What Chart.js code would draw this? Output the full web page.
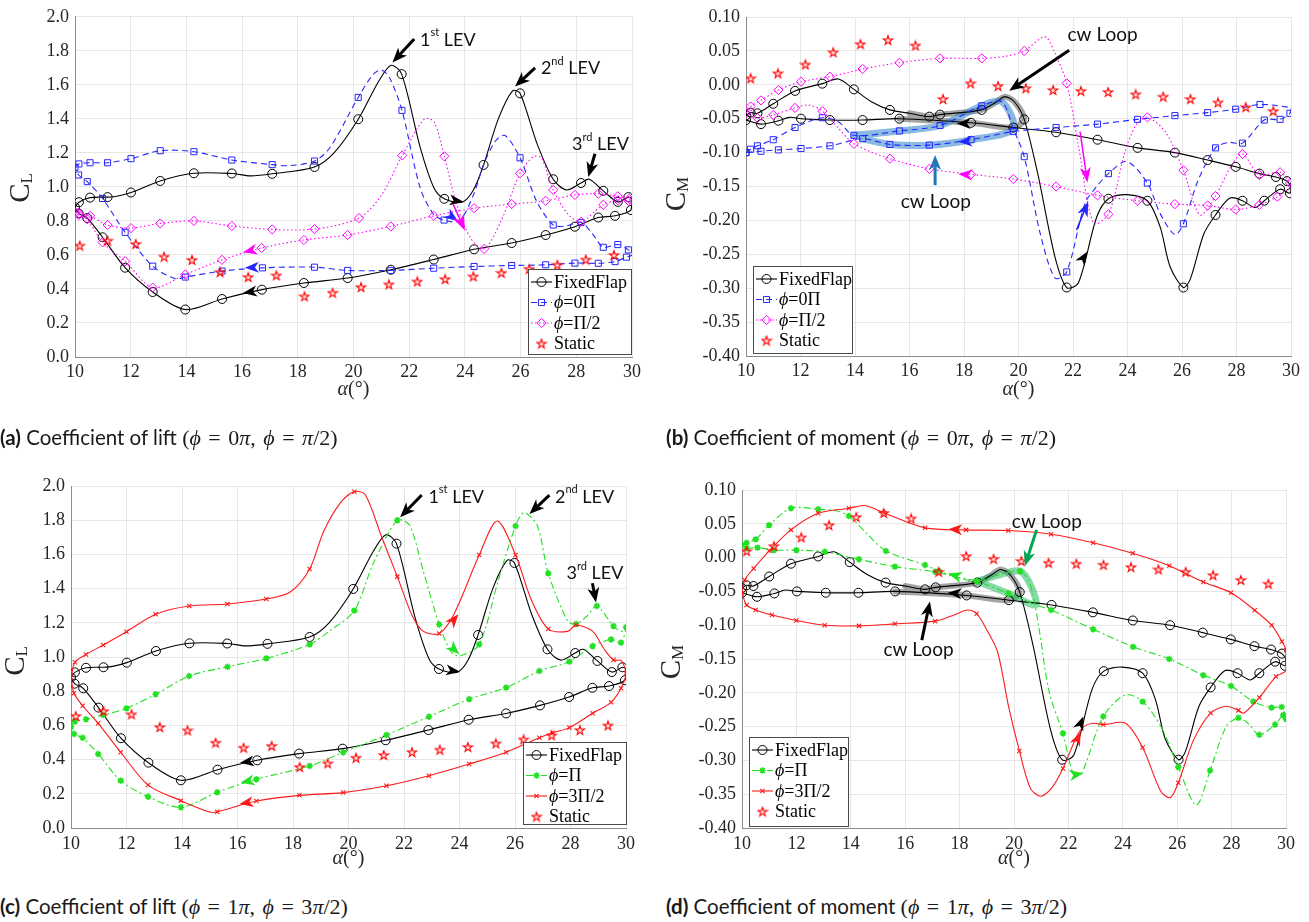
<!DOCTYPE html>
<html>
<head>
<meta charset="utf-8">
<title>Lift and moment hysteresis loops</title>
<script src="https://cdn.jsdelivr.net/npm/chart.js@4.4.1/dist/chart.umd.min.js"></script>
<style>
  html, body { margin: 0; padding: 0; background: #fff; }
  body { position: relative; width: 1309px; height: 922px; overflow: hidden; }
  canvas { position: absolute; }
  .cap { position: absolute; font: 20.5px Lato, "Open Sans", sans-serif; color: #1a1a1a; white-space: nowrap; }
  .cap b { font-weight: 700; }
  .m { font-family: "Liberation Serif", "DejaVu Serif", serif; font-size: 22px; word-spacing: 2px; }
</style>
</head>
<body>
<canvas id="cl1" width="650" height="420" style="left:0;top:0"></canvas>
<canvas id="cm1" width="659" height="420" style="left:650px;top:0"></canvas>
<canvas id="cl2" width="650" height="450" style="left:0;top:440px"></canvas>
<canvas id="cm2" width="659" height="450" style="left:650px;top:440px"></canvas>

<div class="cap" style="left:0;top:425px"><b>(a)</b> Coefficient of lift <span class="m">(<i>ϕ</i> = 0<i>π</i>, <i>ϕ</i> = <i>π</i>/2)</span></div>
<div class="cap" style="left:666px;top:425px"><b>(b)</b> Coefficient of moment <span class="m">(<i>ϕ</i> = 0<i>π</i>, <i>ϕ</i> = <i>π</i>/2)</span></div>
<div class="cap" style="left:0;top:894px"><b>(c)</b> Coefficient of lift <span class="m">(<i>ϕ</i> = 1<i>π</i>, <i>ϕ</i> = 3<i>π</i>/2)</span></div>
<div class="cap" style="left:666px;top:894px"><b>(d)</b> Coefficient of moment <span class="m">(<i>ϕ</i> = 1<i>π</i>, <i>ϕ</i> = 3<i>π</i>/2)</span></div>

<script>
// ---- static polar (same angles for lift and moment)
const alphaStatic = [10.17,11.17,12.18,13.2,14.2,15.21,16.22,17.23,18.24,19.25,20.27,21.27,22.29,23.29,24.3,25.31,26.31,27.32,28.34,29.35];
const clStatic = [0.655,0.684,0.665,0.59,0.571,0.499,0.47,0.48,0.357,0.378,0.411,0.427,0.444,0.458,0.474,0.495,0.518,0.542,0.573,0.60];
const cmStatic = [0.0096,0.017,0.030,0.048,0.060,0.066,0.058,-0.021,0.0022,-0.0018,-0.005,-0.0077,-0.009,-0.0106,-0.014,-0.0175,-0.021,-0.026,-0.033,-0.0387];

// ---- lift loops (upstroke 10->30, then downstroke 30->10); mark = 1 where a symbol sits
const ffAlphaL = [10,10.14,10.54,11.17,11.5,12.01,13.06,14.27,15.63,16.3,17.08,18.6,19.3,20.17,20.9,21.35,21.73,22.4,22.9,23.26,23.9,24.3,24.67,25.2,25.71,25.98,26.6,27.17,27.65,28.17,28.46,28.97,29.49,29.87,30,29.96,29.39,28.79,27.95,26.9,25.68,24.33,22.88,21.34,19.79,18.22,16.71,15.28,13.96,12.79,11.8,10.99,10.44,10.13,10];
const ffCL = [0.88,0.91,0.937,0.94,0.945,0.967,1.035,1.08,1.079,1.065,1.077,1.117,1.2,1.398,1.62,1.715,1.663,1.23,0.99,0.93,0.91,0.98,1.129,1.40,1.565,1.55,1.25,1.045,0.982,1.023,1.045,0.977,0.912,0.94,0.93,0.864,0.83,0.82,0.766,0.717,0.67,0.633,0.573,0.513,0.464,0.435,0.396,0.341,0.279,0.382,0.525,0.704,0.817,0.844,0.88];
const ffMarkL = [1,1,1,1,0,1,1,1,1,0,1,1,0,1,0,0,1,0,0,1,0,0,1,0,0,1,0,1,0,1,0,1,1,1,0,1,1,1,1,1,1,1,1,1,1,1,1,1,1,1,1,1,1,1,0];

const p0AlphaL = [10,10.14,10.54,11.17,12.01,13.06,14.27,15.63,17.08,17.7,18.6,19.15,20.17,20.7,21.01,21.3,21.74,22.39,22.87,23.25,23.8,24.3,24.67,25.1,25.44,25.98,26.57,27.17,27.6,28.17,28.6,28.97,29.49,29.87,30,29.8,29.39,28.79,27.95,26.9,25.68,24.33,22.88,21.34,19.79,18.6,16.73,15.28,13.96,13.6,12.79,11.8,10.99,10.44,10.13,10];
const p0CL = [1.115,1.135,1.142,1.142,1.166,1.213,1.207,1.158,1.131,1.125,1.152,1.23,1.526,1.66,1.688,1.64,1.45,0.996,0.84,0.805,0.80,0.95,1.13,1.27,1.302,1.171,0.918,0.776,0.77,0.791,0.72,0.645,0.661,0.63,0.60,0.587,0.561,0.551,0.552,0.542,0.538,0.532,0.522,0.509,0.509,0.528,0.524,0.505,0.47,0.46,0.534,0.733,0.932,1.031,1.07,1.115];
const p0MarkL = [1,1,1,1,1,1,1,1,1,0,1,0,1,0,0,0,1,0,0,1,0,0,0,0,0,1,0,1,0,1,0,1,1,1,0,1,1,1,1,1,1,1,1,1,1,1,1,1,1,0,1,1,1,1,1,0];

const p2AlphaL = [10,10.14,10.54,11.17,12.01,13.06,14.27,15.63,17.08,18.6,20.2,21.0,21.75,22.55,22.9,23.26,23.7,24.2,24.69,25.3,25.98,26.46,26.75,27.17,27.7,28.17,28.97,29.49,29.87,30,29.9,29.49,28.79,27.95,26.9,25.68,24.33,22.88,21.34,19.79,18.22,16.7,15.28,13.96,12.79,11.8,10.99,10.44,10.14,10];
const p2CL = [0.85,0.845,0.83,0.776,0.758,0.785,0.80,0.77,0.75,0.752,0.817,0.95,1.185,1.40,1.38,1.18,0.9,0.7,0.635,0.80,1.08,1.177,1.17,0.982,0.84,0.795,0.895,0.922,0.918,0.90,0.93,0.945,0.96,0.953,0.918,0.899,0.875,0.83,0.768,0.717,0.688,0.641,0.571,0.485,0.408,0.563,0.674,0.81,0.835,0.85];
const p2MarkL = [1,1,1,1,1,1,1,1,1,1,1,0,1,0,0,1,0,0,1,0,1,0,0,1,0,1,1,1,1,0,1,1,1,1,1,1,1,1,1,1,1,1,1,1,1,1,1,1,1,0];

const piAlphaL = [10,10.14,10.54,11.16,12.0,13.05,14.26,15.64,17.04,18.6,19.3,20.21,20.9,21.76,22.2,22.7,23.27,23.7,24.02,24.71,25.4,26.02,26.32,26.8,27.2,27.9,28.2,28.6,28.95,29.55,29.85,30,29.82,29.46,28.8,27.96,26.88,25.68,24.35,22.9,21.37,19.81,18.6,16.68,15.27,13.96,12.78,11.79,10.98,10.42,10.11,10];
const piCL = [0.592,0.622,0.636,0.661,0.70,0.782,0.889,0.943,0.992,1.074,1.15,1.271,1.55,1.80,1.77,1.50,1.19,1.03,1.006,1.074,1.45,1.766,1.844,1.77,1.489,1.21,1.193,1.24,1.298,1.181,1.15,1.174,1.084,1.103,1.064,0.973,0.918,0.821,0.754,0.651,0.544,0.443,0.363,0.285,0.209,0.121,0.183,0.277,0.433,0.528,0.55,0.592];
const piMarkL = [1,1,1,1,1,1,1,1,1,1,0,1,0,1,0,0,1,0,0,1,0,1,0,0,1,0,1,0,1,1,0,1,1,1,1,1,1,1,1,1,1,1,1,1,1,1,1,1,1,1,1,0];

const p3AlphaL = [10,10.14,10.54,11.16,12.0,13.05,14.26,15.64,17.04,17.9,18.6,19.1,19.7,20.21,20.6,21.2,21.76,22.3,22.7,23.27,23.8,24.71,25.36,26.02,26.6,27.2,27.9,28.2,28.8,29.2,29.55,29.82,30,29.82,29.46,28.8,27.96,27.36,26.88,25.68,24.35,22.9,21.37,19.81,18.23,16.68,15.27,15.0,13.96,12.78,11.79,10.98,10.42,10.11,10];
const p3CL = [0.88,0.969,1.015,1.07,1.148,1.25,1.298,1.31,1.339,1.38,1.515,1.733,1.90,1.967,1.95,1.70,1.47,1.24,1.15,1.138,1.25,1.596,1.795,1.596,1.33,1.164,1.15,1.187,1.15,1.05,0.982,0.98,0.905,0.817,0.735,0.671,0.587,0.557,0.528,0.443,0.374,0.306,0.247,0.207,0.191,0.158,0.095,0.093,0.16,0.251,0.443,0.612,0.715,0.788,0.88];
const p3MarkL = [1,1,1,1,1,1,1,1,1,0,1,0,0,1,0,0,1,0,0,1,0,1,0,1,0,1,0,1,0,0,1,0,1,1,1,1,1,1,1,1,1,1,1,1,1,1,1,0,1,1,1,1,1,1,0];

// ---- moment loops
const ffAlphaM = [10,10.17,10.42,11.0,11.8,12.8,13.39,13.96,14.6,15.28,16.0,16.73,17.12,18.65,19.2,19.5,19.85,20.21,20.7,21.34,21.77,22.2,22.87,23.3,23.97,24.73,25.2,25.56,26.05,26.3,26.8,27.23,27.76,28.22,28.68,29.02,29.6,29.96,30,29.85,29.45,28.84,27.97,26.94,25.74,24.37,22.9,21.38,19.81,18.26,15.63,14.28,13.08,12.02,11.6,11.19,10.55,10.0];
const ffCM = [-0.045,-0.041,-0.042,-0.028,-0.009,0.0017,0.0086,-0.0067,-0.025,-0.037,-0.042,-0.047,-0.044,-0.037,-0.025,-0.0175,-0.025,-0.051,-0.13,-0.254,-0.299,-0.292,-0.195,-0.168,-0.162,-0.171,-0.21,-0.268,-0.299,-0.287,-0.22,-0.192,-0.167,-0.171,-0.181,-0.171,-0.154,-0.16,-0.152,-0.142,-0.136,-0.131,-0.121,-0.111,-0.100,-0.093,-0.081,-0.070,-0.063,-0.056,-0.050,-0.052,-0.052,-0.050,-0.048,-0.053,-0.058,-0.052];
const ffMarkM = [1,1,1,1,1,1,0,1,0,1,0,1,1,1,0,0,0,1,0,0,1,0,0,1,0,1,0,0,1,0,0,1,0,1,0,1,1,1,0,1,1,1,1,1,1,1,1,1,1,1,1,1,1,1,0,1,1,1];

const p0AlphaM = [10,10.17,10.42,11.0,11.8,12.8,13.4,13.96,15.63,17.12,18.65,19.39,19.81,20.21,20.8,21.34,21.77,22.44,22.87,23.3,23.97,24.73,25.2,25.74,26.05,26.6,27.23,27.7,28.22,29.02,29.6,29.96,30,29.9,28.86,27.97,26.94,25.74,24.37,22.9,21.38,19.81,18.26,16.73,15.28,14.28,13.08,12.02,11.19,10.55,10.0];
const p0CM = [-0.100,-0.095,-0.090,-0.081,-0.063,-0.0485,-0.055,-0.0745,-0.068,-0.060,-0.031,-0.025,-0.065,-0.106,-0.22,-0.285,-0.276,-0.175,-0.150,-0.131,-0.113,-0.145,-0.19,-0.221,-0.205,-0.14,-0.093,-0.085,-0.086,-0.052,-0.051,-0.042,-0.035,-0.033,-0.029,-0.036,-0.041,-0.0455,-0.051,-0.058,-0.063,-0.069,-0.081,-0.089,-0.088,-0.0795,-0.090,-0.094,-0.096,-0.098,-0.100];
const p0MarkM = [1,1,1,1,1,1,0,1,1,1,1,0,0,1,0,0,1,0,0,1,0,1,0,0,1,0,1,0,1,1,1,1,0,0,1,1,1,1,1,1,1,1,1,1,1,1,1,1,1,1,1];

const p2AlphaM = [10,10.17,10.55,11.19,12.02,13.08,14.28,15.63,17.12,18.65,19.5,20.21,20.97,21.3,21.77,22.2,22.75,23.3,23.9,24.3,24.73,25.4,26.05,26.66,27.23,27.8,28.22,28.84,29.6,29.96,30,29.5,28.84,27.97,26.94,25.74,24.37,22.9,21.38,19.81,18.26,16.73,15.28,13.96,13.3,12.8,12.3,11.8,11.0,10.42,10.0];
const p2CM = [-0.042,-0.032,-0.023,-0.0077,0.0046,0.012,0.0233,0.0326,0.039,0.039,0.042,0.050,0.071,0.05,0.0022,-0.09,-0.204,-0.191,-0.10,-0.06,-0.048,-0.07,-0.126,-0.192,-0.164,-0.12,-0.102,-0.133,-0.129,-0.145,-0.150,-0.165,-0.177,-0.184,-0.178,-0.176,-0.171,-0.163,-0.150,-0.139,-0.132,-0.124,-0.109,-0.087,-0.06,-0.0387,-0.030,-0.034,-0.0445,-0.049,-0.042];
const p2MarkM = [1,1,1,1,1,1,1,1,1,1,0,1,0,0,1,0,0,1,0,0,1,0,1,0,1,0,1,1,1,1,0,1,1,1,1,1,1,1,1,1,1,1,1,1,0,1,0,1,1,1,0];

const piAlphaM = [10,10.17,10.5,11.0,11.8,12.8,13.5,13.93,14.6,15.29,16.73,17.24,18.0,18.63,19.5,20.22,20.6,20.9,21.3,21.8,22.2,22.49,23.28,24.1,24.73,25.4,26.04,26.7,27.21,27.8,28.25,28.6,29.02,29.6,29.9,30,29.84,29.47,28.8,27.98,26.96,25.71,24.38,22.91,21.36,20.8,19.79,18.63,17.8,17.1,15.62,14.3,13.04,12.0,11.16,10.57,10.17,10];
const piCM = [0.0186,0.022,0.027,0.048,0.073,0.0715,0.069,0.0615,0.035,0.0098,-0.011,-0.020,-0.030,-0.035,-0.025,-0.020,-0.04,-0.10,-0.2,-0.26,-0.322,-0.319,-0.235,-0.203,-0.213,-0.25,-0.31,-0.366,-0.315,-0.25,-0.237,-0.245,-0.262,-0.247,-0.233,-0.239,-0.221,-0.222,-0.213,-0.19,-0.174,-0.15,-0.132,-0.106,-0.0775,-0.07,-0.053,-0.035,-0.028,-0.021,-0.0134,-0.0025,0.0087,0.011,0.011,0.0147,0.0137,0.0186];
const piMarkM = [1,1,1,1,1,1,0,1,0,1,1,1,0,1,0,1,0,0,0,1,0,0,1,0,1,0,1,0,1,0,1,0,1,1,1,1,1,1,1,1,1,1,1,1,1,0,1,0,0,1,1,1,1,1,1,1,1,0];

const p3AlphaM = [10,10.17,10.5,11.1,12.0,13.04,14.3,15.62,17.1,17.8,18.3,18.63,19.0,19.4,19.8,20.2,20.6,20.98,21.4,21.8,22.3,22.56,22.9,23.28,24.1,24.73,25.4,25.75,26.04,26.6,27.23,27.8,28.25,28.45,29.02,29.63,30,30,29.85,29.47,28.85,27.98,26.96,25.71,24.36,22.91,21.36,19.79,18.24,16.73,15.23,14.52,13.93,12.8,11.8,11.0,10.43,10.1,10];
const p3CM = [-0.053,-0.070,-0.0775,-0.085,-0.093,-0.100,-0.101,-0.098,-0.094,-0.085,-0.0775,-0.083,-0.107,-0.14,-0.22,-0.286,-0.341,-0.353,-0.34,-0.312,-0.265,-0.25,-0.245,-0.247,-0.245,-0.281,-0.346,-0.355,-0.333,-0.27,-0.23,-0.22,-0.226,-0.23,-0.207,-0.176,-0.167,-0.137,-0.124,-0.100,-0.078,-0.052,-0.036,-0.012,0.0063,0.022,0.0345,0.040,0.041,0.044,0.066,0.077,0.073,0.0655,0.041,0.010,-0.016,-0.033,-0.053];
const p3MarkM = [1,1,1,1,1,1,1,1,1,0,0,1,0,0,0,1,0,0,0,1,0,0,0,1,0,1,0,0,1,0,1,0,1,0,1,1,0,1,1,1,1,1,1,1,1,1,1,1,1,1,1,0,1,1,1,1,1,1,0];

const xTicks = [10, 30, 2];
const clTicks = [0, 2, 0.2];
const cmTicks = [-0.4, 0.1, 0.05];

// ---- pentagram symbol for the static points
const starImg = document.createElement('canvas');
starImg.width = 12; starImg.height = 12;
(function () {
  const c = starImg.getContext('2d');
  c.beginPath();
  for (let k = 0; k < 10; k++) {
    const r = k % 2 ? 1.9 : 4.8;
    const a = -Math.PI / 2 + k * Math.PI / 5;
    const px = 6 + r * Math.cos(a), py = 6.5 + r * Math.sin(a);
    k ? c.lineTo(px, py) : c.moveTo(px, py);
  }
  c.closePath();
  c.fillStyle = 'rgba(255,120,120,0.25)';
  c.fill();
  c.strokeStyle = '#ff0000';
  c.lineWidth = 1.1;
  c.stroke();
})();

const stFF = { color: '#000000', shape: 'circle', r: 4.5 };
const stP0 = { color: '#2626ff', shape: 'rect', r: 4.3, dash: [6, 4] };
const stP2 = { color: '#ff00ff', shape: 'rectRot', r: 4.6, dash: [1.5, 2.5] };
const stPi = { color: '#22e022', shape: 'star', r: 3.2, pbw: 1.6, dash: [7, 3, 2, 3] };
const stP3 = { color: '#ff1a1a', shape: 'crossRot', r: 3, pbw: 1.1 };
const stSt = { color: '#ff0000', shape: starImg, r: 5, noLine: true };

const SERIF = '"Times New Roman", "Liberation Serif", Times, serif';
const SANS = 'Lato, "Open Sans", sans-serif';

function loop(A, V, M, st) {
  return {
    data: A.map((a, i) => ({ x: a, y: V[i] })),
    showLine: true, tension: 0.3, fill: false,
    borderColor: st.color, borderWidth: 1.1, borderDash: st.dash || [],
    pointStyle: st.shape,
    pointRadius: c => (M[c.dataIndex] ? st.r : 0),
    pointHoverRadius: 0,
    pointBorderColor: st.color,
    pointBackgroundColor: 'rgba(0,0,0,0)',
    pointBorderWidth: st.pbw || 1
  };
}

function dots(A, V, st) {
  return {
    data: A.map((a, i) => ({ x: a, y: V[i] })),
    showLine: false, pointStyle: st.shape, pointRadius: st.r, pointHoverRadius: 0
  };
}

// wide translucent stroke under part of a loop; ranges are index spans of the loop arrays
function glow(A, V, ranges, color, w) {
  const d = [];
  ranges.forEach(([i0, i1]) => {
    for (let i = i0; i <= i1; i++) d.push({ x: A[i], y: V[i] });
  });
  return {
    data: d, showLine: true, tension: 0.3, borderColor: color, borderWidth: w,
    pointRadius: 0, pointHoverRadius: 0, borderCapStyle: 'round', borderJoinStyle: 'round'
  };
}

function head(ctx, x, y, ang, len, wid, color) {
  ctx.save();
  ctx.translate(x, y);
  ctx.rotate(ang);
  ctx.fillStyle = color;
  ctx.beginPath();
  ctx.moveTo(0, 0);
  ctx.lineTo(-len, -wid / 2);
  ctx.lineTo(-len * 0.72, 0);
  ctx.lineTo(-len, wid / 2);
  ctx.closePath();
  ctx.fill();
  ctx.restore();
}

function richText(ctx, x, y, parts, size, family) {
  parts.forEach(p => {
    const s = p.sup ? Math.round(size * 0.62) : size;
    ctx.font = (p.it ? 'italic ' : '') + s + 'px ' + family;
    ctx.fillText(p.t, x, p.sup ? y - size * 0.38 : y);
    x += ctx.measureText(p.t).width;
  });
}

function drawLegend(ctx, area, lg) {
  const bx = lg.side === 'right' ? area.right - lg.w + lg.dx : area.left + lg.dx;
  const by = area.bottom - lg.h - lg.dy;
  ctx.setLineDash([]);
  ctx.fillStyle = '#fff';
  ctx.fillRect(bx, by, lg.w, lg.h);
  ctx.strokeStyle = '#4a4a4a';
  ctx.lineWidth = 1;
  ctx.strokeRect(bx + 0.5, by + 0.5, lg.w - 1, lg.h - 1);
  lg.items.forEach((it, i) => {
    const cy = by + 13 + i * 20.5;
    const st = it.st;
    if (!st.noLine) {
      ctx.strokeStyle = st.color;
      ctx.lineWidth = 1.1;
      ctx.setLineDash(st.dash || []);
      ctx.beginPath();
      ctx.moveTo(bx + 3, cy);
      ctx.lineTo(bx + 24, cy);
      ctx.stroke();
      ctx.setLineDash([]);
    }
    ctx.strokeStyle = st.color;
    ctx.fillStyle = 'rgba(0,0,0,0)';
    ctx.lineWidth = st.pbw || 1;
    Chart.helpers.drawPoint(ctx, { pointStyle: st.shape, radius: st.r, borderWidth: st.pbw || 1, rotation: 0 }, bx + 13.5, cy);
    ctx.fillStyle = '#000';
    ctx.textAlign = 'left';
    ctx.textBaseline = 'middle';
    richText(ctx, bx + 26, cy + 1, it.label, 18, SERIF);
  });
}

const lgBase = [{ st: stFF, label: [{ t: 'FixedFlap' }] }];
const lgStatic = { st: stSt, label: [{ t: 'Static' }] };
const phi = t => [{ t: 'ϕ', it: 1 }, { t: t }];
const LEV = (n, s) => [{ t: n }, { t: s, sup: 1 }, { t: ' LEV' }];

const decor = {
  cl1: {
    yTitle: { x: 21, y: 188, main: 'C', sub: 'L' }, xTitleDy: 33,
    legend: { side: 'right', dx: 0, dy: 2, w: 104, h: 86, items: [...lgBase, { st: stP0, label: phi('=0Π') }, { st: stP2, label: phi('=Π/2') }, lgStatic] },
    heads: [
      [16.6, 0.39, 16.03, 0.376, '#000'], [16.6, 0.527, 16.1, 0.524, '#2626ff'], [16.6, 0.636, 16.04, 0.616, '#ff00ff'],
      [23.4, 0.925, 23.95, 0.912, '#000'], [23.4, 0.84, 23.75, 0.80, '#2626ff']
    ],
    arrows: [
      { from: [22.18, 1.87], to: [21.40, 1.731], color: '#000', w: 3, len: 15, wid: 12 },
      { from: [26.52, 1.70], to: [25.8, 1.59], color: '#000', w: 3, len: 15, wid: 12 },
      { from: [28.67, 1.195], to: [28.43, 1.058], color: '#000', w: 3, len: 15, wid: 12 },
      { from: [23.58, 0.899], to: [24.0, 0.743], color: '#ff00ff', w: 1.5, len: 16, wid: 12 }
    ],
    notes: [
      { at: [22.39, 1.865], parts: LEV('1', 'st'), size: 18 },
      { at: [26.73, 1.70], parts: LEV('2', 'nd'), size: 18 },
      { at: [27.85, 1.25], parts: LEV('3', 'rd'), size: 18 }
    ]
  },
  cm1: {
    yTitle: { x: 27, y: 194, main: 'C', sub: 'M' }, xTitleDy: 34,
    legend: { side: 'left', dx: 7, dy: 2, w: 100, h: 88, items: [...lgBase, { st: stP0, label: phi('=0Π') }, { st: stP2, label: phi('=Π/2') }, lgStatic] },
    heads: [
      [18.3, -0.057, 17.73, -0.057, '#000'], [18.3, -0.083, 17.79, -0.084, '#2626ff'], [18.3, -0.133, 17.79, -0.1316, '#ff00ff'],
      [22.26, -0.263, 22.53, -0.246, '#000']
    ],
    arrows: [
      { from: [22.13, -0.214], to: [22.56, -0.172], color: '#2626ff', w: 1.5, len: 15, wid: 11 },
      { from: [22.26, -0.069], to: [22.53, -0.144], color: '#ff00ff', w: 1.5, len: 15, wid: 11 },
      { from: [21.86, 0.051], to: [19.66, -0.0087], color: '#000', w: 3, len: 15, wid: 12 },
      { from: [16.94, -0.148], to: [16.94, -0.1035], color: '#1f77b4', w: 3, len: 15, wid: 12 }
    ],
    notes: [
      { at: [21.8, 0.0735], parts: [{ t: 'cw Loop' }], size: 19 },
      { at: [15.68, -0.172], parts: [{ t: 'cw Loop' }], size: 19 }
    ]
  },
  cl2: {
    yTitle: { x: 16, y: 221, main: 'C', sub: 'L' }, xTitleDy: 31,
    legend: { side: 'right', dx: 1, dy: 3, w: 104, h: 83, items: [...lgBase, { st: stPi, label: phi('=Π') }, { st: stP3, label: phi('=3Π/2') }, lgStatic] },
    heads: [
      [16.7, 0.395, 16.09, 0.382, '#000'], [16.7, 0.285, 16.11, 0.265, '#22e022'], [16.7, 0.158, 16.07, 0.14, '#ff1a1a'],
      [23.5, 0.925, 24.02, 0.914, '#000'], [23.45, 1.10, 23.99, 1.016, '#22e022'], [23.5, 1.16, 23.96, 1.25, '#ff1a1a']
    ],
    arrows: [
      { from: [22.64, 1.947], to: [21.86, 1.817], color: '#000', w: 3, len: 15, wid: 12 },
      { from: [27.24, 1.947], to: [26.52, 1.836], color: '#000', w: 3, len: 15, wid: 12 },
      { from: [28.79, 1.431], to: [28.92, 1.318], color: '#000', w: 3, len: 15, wid: 12 }
    ],
    notes: [
      { at: [22.88, 1.937], parts: LEV('1', 'st'), size: 18 },
      { at: [27.44, 1.937], parts: LEV('2', 'nd'), size: 18 },
      { at: [27.86, 1.49], parts: LEV('3', 'rd'), size: 18 }
    ]
  },
  cm2: {
    yTitle: { x: 22, y: 222, main: 'C', sub: 'M' }, xTitleDy: 31,
    legend: { side: 'left', dx: 7, dy: 1, w: 100, h: 90, items: [...lgBase, { st: stPi, label: phi('=Π') }, { st: stP3, label: phi('=3Π/2') }, lgStatic] },
    heads: [
      [18.2, 0.041, 17.58, 0.042, '#ff1a1a'], [18.2, -0.031, 17.58, -0.023, '#22e022'], [18.2, -0.054, 17.56, -0.052, '#000'],
      [22.3, -0.26, 22.55, -0.235, '#000'], [22.15, -0.285, 22.45, -0.258, '#ff1a1a'], [22.1, -0.322, 22.55, -0.319, '#22e022']
    ],
    arrows: [
      { from: [20.83, 0.041], to: [20.40, -0.0124], color: '#00a651', w: 3, len: 15, wid: 12 },
      { from: [16.61, -0.122], to: [16.91, -0.065], color: '#000', w: 3, len: 15, wid: 12 }
    ],
    notes: [
      { at: [19.92, 0.053], parts: [{ t: 'cw Loop' }], size: 19 },
      { at: [15.2, -0.137], parts: [{ t: 'cw Loop' }], size: 19 }
    ]
  }
};

const overlay = {
  id: 'overlay',
  afterDatasetsDraw(chart) {
    const d = decor[chart.canvas.id];
    const ctx = chart.ctx, xs = chart.scales.x, ys = chart.scales.y, area = chart.chartArea;
    const P = (a, v) => [xs.getPixelForValue(a), ys.getPixelForValue(v)];
    ctx.save();
    d.heads.forEach(h => {
      const [x0, y0] = P(h[0], h[1]), [x1, y1] = P(h[2], h[3]);
      head(ctx, x1, y1, Math.atan2(y1 - y0, x1 - x0), 14, 11, h[4]);
    });
    d.arrows.forEach(a => {
      const [x0, y0] = P(a.from[0], a.from[1]), [x1, y1] = P(a.to[0], a.to[1]);
      const ang = Math.atan2(y1 - y0, x1 - x0);
      ctx.strokeStyle = a.color;
      ctx.lineWidth = a.w;
      ctx.setLineDash([]);
      ctx.beginPath();
      ctx.moveTo(x0, y0);
      ctx.lineTo(x1 - Math.cos(ang) * a.len * 0.7, y1 - Math.sin(ang) * a.len * 0.7);
      ctx.stroke();
      head(ctx, x1, y1, ang, a.len, a.wid, a.color);
    });
    ctx.fillStyle = '#111';
    ctx.textAlign = 'left';
    ctx.textBaseline = 'middle';
    d.notes.forEach(n => {
      const [x, y] = P(n.at[0], n.at[1]);
      richText(ctx, x, y, n.parts, n.size, SANS);
    });
    drawLegend(ctx, area, d.legend);

    // axis titles
    ctx.fillStyle = '#262626';
    ctx.textBaseline = 'middle';
    ctx.textAlign = 'left';
    const xc = (area.left + area.right) / 2, yb = area.bottom + d.xTitleDy;
    ctx.font = 'italic 20px ' + SERIF;
    const wa = ctx.measureText('α').width;
    ctx.font = '20px ' + SERIF;
    const wb = ctx.measureText('(°)').width;
    ctx.font = 'italic 20px ' + SERIF;
    ctx.fillText('α', xc - (wa + wb) / 2, yb);
    ctx.font = '20px ' + SERIF;
    ctx.fillText('(°)', xc - (wa + wb) / 2 + wa, yb);

    const t = d.yTitle;
    ctx.save();
    ctx.translate(t.x, t.y);
    ctx.rotate(-Math.PI / 2);
    ctx.font = '29px ' + SERIF;
    const w1 = ctx.measureText(t.main).width;
    ctx.font = '17px ' + SERIF;
    const w2 = ctx.measureText(t.sub).width;
    ctx.font = '29px ' + SERIF;
    ctx.fillText(t.main, -(w1 + w2) / 2, 0);
    ctx.font = '17px ' + SERIF;
    ctx.fillText(t.sub, -(w1 + w2) / 2 + w1, 7);
    ctx.restore();
    ctx.restore();
  }
};

const tickFont = { family: SERIF, size: 18 };

function xAxis(h, pad) {
  return {
    type: 'linear', min: xTicks[0], max: xTicks[1],
    ticks: { stepSize: xTicks[2], color: '#262626', font: tickFont, padding: pad, maxRotation: 0, autoSkip: false },
    grid: { color: '#e6e6e6', drawTicks: false },
    border: { color: '#8c8c8c' },
    afterFit: s => { s.height = h; }
  };
}

function yAxis(t, dec, w) {
  return {
    type: 'linear', min: t[0], max: t[1],
    ticks: {
      stepSize: t[2], color: '#262626', font: tickFont, padding: 6, autoSkip: false,
      callback: v => (Math.abs(v) < 1e-9 ? 0 : v).toFixed(dec)
    },
    grid: { color: '#e6e6e6', drawTicks: false },
    border: { color: '#8c8c8c' },
    afterFit: s => { s.width = w; }
  };
}

function build(id, datasets, y, x, pad) {
  new Chart(document.getElementById(id), {
    type: 'scatter',
    data: { datasets },
    options: {
      responsive: false, animation: false, events: [],
      layout: { padding: pad },
      plugins: { legend: { display: false }, tooltip: { enabled: false } },
      scales: { x, y }
    },
    plugins: [overlay]
  });
}

const shade = 'rgba(40,40,40,0.42)';
const blueGlow = 'rgba(60,140,205,0.6)';
const greenGlow = 'rgba(40,185,100,0.55)';

build('cl1', [
  dots(alphaStatic, clStatic, stSt),
  loop(p2AlphaL, p2CL, p2MarkL, stP2),
  loop(p0AlphaL, p0CL, p0MarkL, stP0),
  loop(ffAlphaL, ffCL, ffMarkL, stFF)
], yAxis(clTicks, 1, 75), xAxis(63, 4), { top: 15, right: 18, left: 0, bottom: 0 });

build('cm1', [
  dots(alphaStatic, cmStatic, stSt),
  loop(p2AlphaM, p2CM, p2MarkM, stP2),
  loop(p0AlphaM, p0CM, p0MarkM, stP0),
  loop(ffAlphaM, ffCM, ffMarkM, stFF),
  glow(p0AlphaM, p0CM, [[7, 12], [42, 45]], blueGlow, 7),
  glow(ffAlphaM, ffCM, [[10, 17], [48, 50]], shade, 6)
], yAxis(cmTicks, 2, 96), xAxis(64, 4), { top: 17, right: 18, left: 0, bottom: 0 });

build('cl2', [
  dots(alphaStatic, clStatic, stSt),
  loop(p3AlphaL, p3CL, p3MarkL, stP3),
  loop(piAlphaL, piCL, piMarkL, stPi),
  loop(ffAlphaL, ffCL, ffMarkL, stFF)
], yAxis(clTicks, 1, 71), xAxis(62, 5), { top: 46, right: 24, left: 0, bottom: 0 });

build('cm2', [
  dots(alphaStatic, cmStatic, stSt),
  loop(p3AlphaM, p3CM, p3MarkM, stP3),
  loop(piAlphaM, piCM, piMarkM, stPi),
  loop(ffAlphaM, ffCM, ffMarkM, stFF),
  glow(piAlphaM, piCM, [[13, 16], [45, 47]], greenGlow, 7),
  glow(ffAlphaM, ffCM, [[10, 17], [48, 50]], shade, 6)
], yAxis(cmTicks, 2, 92), xAxis(62, 5), { top: 50, right: 23, left: 0, bottom: 0 });
</script>
</body>
</html>
